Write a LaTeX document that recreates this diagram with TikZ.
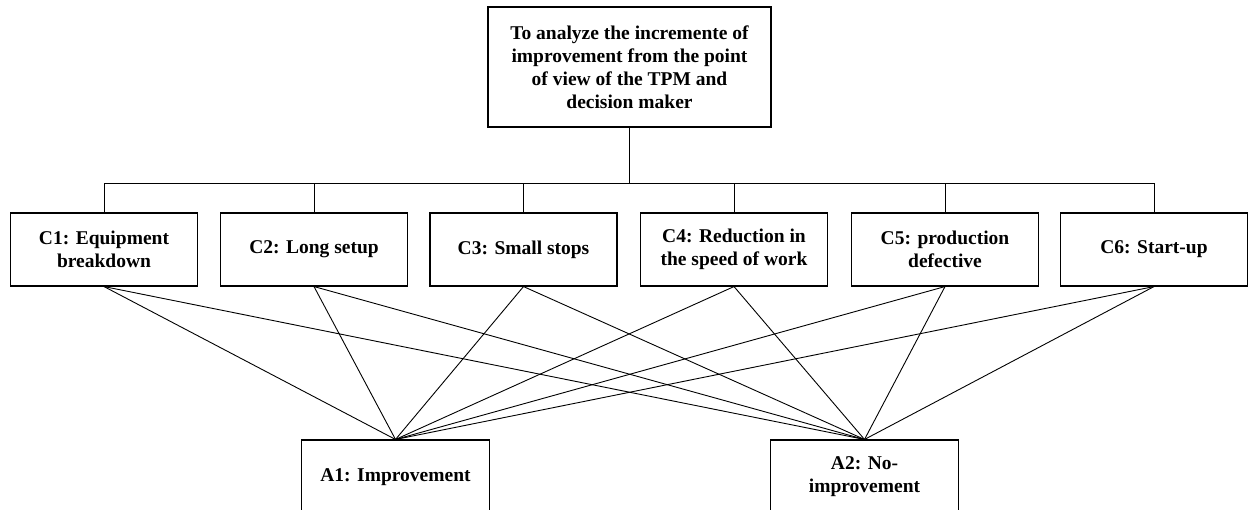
\documentclass[tikz,border=0pt]{standalone}
\usepackage{fontspec}
\setmainfont{Liberation Serif}
\begin{document}
\begin{tikzpicture}[x=1pt,y=-1pt,
 box/.style={draw, line width=1.1pt, rectangle, inner sep=0pt, align=center,
   font=\fontsize{19.5}{23}\selectfont\bfseries},
 crit/.style={box, minimum width=187pt, minimum height=73pt},
 alt/.style={box, minimum width=188pt, minimum height=74pt},
 link/.style={line width=0.9pt}]
\useasboundingbox (0,0) rectangle (1249,509);
\node[box, minimum width=283pt, minimum height=120pt] (goal) at (629.5,67)
  {To analyze the incremente of\\improvement from the point\\of view of the TPM and\\decision maker};
\node[crit] (c1) at (104,249.5) {C1: Equipment\\breakdown};
\node[crit] (c2) at (314,249.5) {C2: Long setup};
\node[crit] (c3) at (523.5,249.5) {C3: Small stops};
\node[crit] (c4) at (734,249.5) {C4: Reduction in\\the speed of work};
\node[crit] (c5) at (945,249.5) {C5: production\\defective};
\node[crit] (c6) at (1154,249.5) {C6: Start-up};
\node[alt] (a1) at (395.5,477) {A1: Improvement};
\node[alt] (a2) at (864.5,477) {A2: No-\\improvement};
\coordinate (bus) at (629.5,183);
\draw[link] (goal.south) -- (bus);
\draw[link] (c1.north |- bus) -- (c6.north |- bus);
\foreach \c in {c1,c2,c3,c4,c5,c6}{
  \draw[link] (\c.north) -- (\c.north |- bus);
  \draw[link] (\c.south) -- (a1.north);
  \draw[link] (\c.south) -- (a2.north);
}
\end{tikzpicture}
\end{document}
